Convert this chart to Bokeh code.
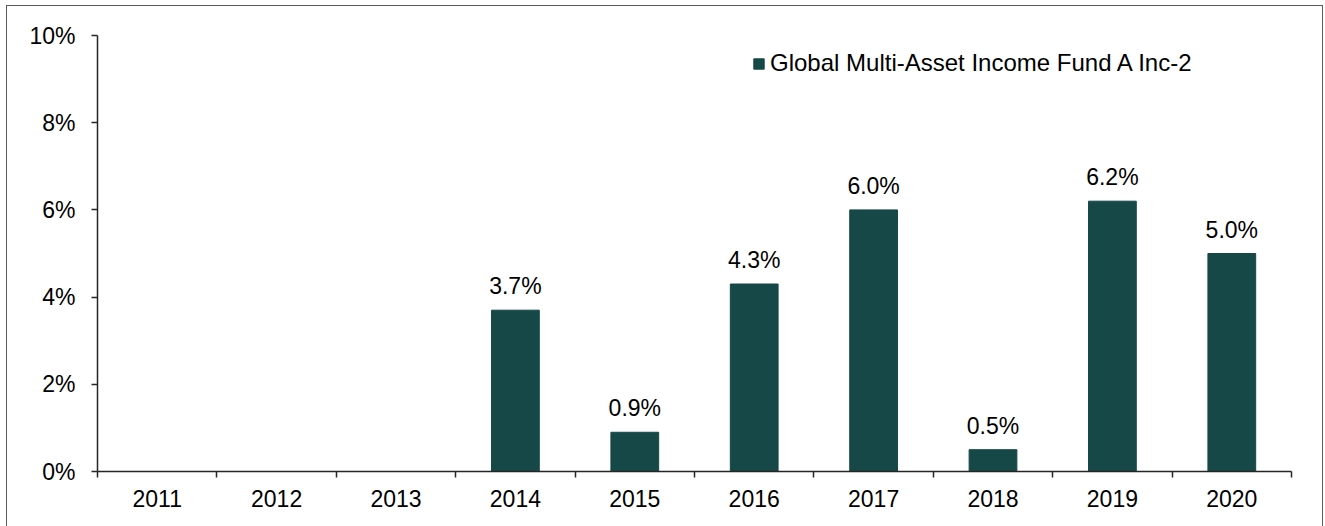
from bokeh.plotting import figure
from bokeh.models import ColumnDataSource, FixedTicker, Legend, LegendItem
from bokeh.embed import file_html
from bokeh.resources import INLINE
from bokeh.core.properties import value

years = ["2011", "2012", "2013", "2014", "2015", "2016", "2017", "2018", "2019", "2020"]
returns = [None, None, None, 3.7, 0.9, 4.3, 6.0, 0.5, 6.2, 5.0]
series_name = "Global Multi-Asset Income Fund A Inc-2"
y_ticks = [0, 2, 4, 6, 8, 10]

BAR = "#164848"
FONT = "Liberation Sans"
FS = "23px"

xs = [i + 0.5 for i, v in enumerate(returns) if v is not None]
vals = [v for v in returns if v is not None]
labels = ["%.1f%%" % v for v in vals]
src = ColumnDataSource(dict(x=xs, top=vals, label=labels))

p = figure(width=1317, height=521, output_backend="svg", toolbar_location=None,
           x_range=(0, len(years)), y_range=(0, 10),
           min_border_left=90, min_border_right=33, min_border_top=29, min_border_bottom=56)
p.styles = {"margin-left": "6px", "margin-top": "5px",
            "border-left": "1.5px solid #595959", "border-top": "1.5px solid #595959",
            "border-right": "1.5px solid #595959"}
p.background_fill_color = "white"
p.border_fill_color = "white"
p.outline_line_color = None
p.grid.visible = False

r = p.vbar(x="x", top="top", width=0.4, bottom=0, source=src, fill_color=BAR, line_color=BAR)
p.text(x="x", y="top", text="label", source=src, text_align="center", text_baseline="alphabetic",
       y_offset=-24, text_font=value(FONT), text_font_size=FS, text_color="#000000")

xa = p.xaxis[0]
xa.ticker = FixedTicker(ticks=[i + 0.5 for i in range(len(years))], minor_ticks=list(range(len(years) + 1)))
xa.major_label_overrides = {i + 0.5: y for i, y in enumerate(years)}
xa.major_tick_out = 0
xa.major_tick_in = 0
xa.minor_tick_out = 6
xa.minor_tick_in = 0
xa.minor_tick_line_color = "#262626"
xa.minor_tick_line_width = 1.5
xa.axis_line_color = "#262626"
xa.axis_line_width = 1.5
xa.major_label_text_font = FONT
xa.major_label_text_font_size = FS
xa.major_label_text_color = "#000000"
xa.major_label_standoff = 12

ya = p.yaxis[0]
ya.ticker = FixedTicker(ticks=y_ticks, minor_ticks=[])
ya.major_label_overrides = {t: "%d%%" % t for t in y_ticks}
ya.major_tick_out = 6
ya.major_tick_in = 0
ya.major_tick_line_color = "#262626"
ya.major_tick_line_width = 1.5
ya.axis_line_color = "#262626"
ya.axis_line_width = 1.5
ya.major_label_text_font = FONT
ya.major_label_text_font_size = FS
ya.major_label_text_color = "#000000"
ya.major_label_standoff = 16

legend = Legend(items=[LegendItem(label=series_name, renderers=[r])], location=(655, 394),
                glyph_width=13, glyph_height=13, label_standoff=5, padding=0, margin=0,
                border_line_color=None, background_fill_alpha=0,
                label_text_font=FONT, label_text_font_size="24px", label_text_color="#000000")
p.add_layout(legend, "center")

open("out.html", "w").write(file_html(p, INLINE))
